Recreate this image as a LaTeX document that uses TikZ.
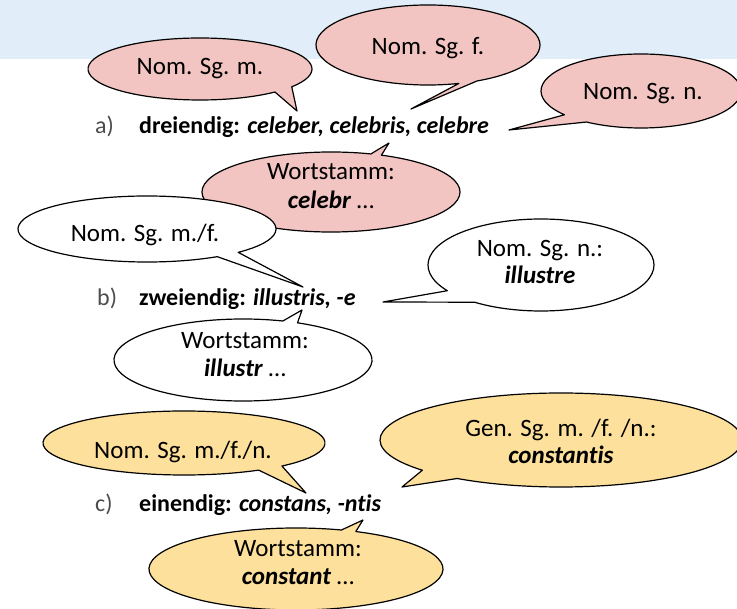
\documentclass[tikz,border=0pt]{standalone}
\usepackage{fontspec}
\setmainfont{Carlito}[Ligatures=NoCommon]
\usetikzlibrary{calc}
\definecolor{bandblue}{HTML}{E1EDF9}
\definecolor{bpink}{HTML}{F2C4C2}
\definecolor{byellow}{HTML}{FDE09B}
\begin{document}
\begin{tikzpicture}[x=1pt,y=1pt,yscale=-1,
  bubble/.style={draw=black, line width=1.2pt, line join=round},
  txt/.style={inner sep=0pt, anchor=base, font=\fontsize{25}{28}\selectfont},
  lbl/.style={inner sep=0pt, anchor=base west, font=\fontsize{24}{28}\selectfont},
  lightlbl/.style={lbl, text=black!70}]
\useasboundingbox (0,0) rectangle (737,609);
\clip (0,0) rectangle (737,609);
\fill[bandblue] (0,0) rectangle (737,59);

% a) dreiendig
\coordinate (c1) at (200,69);  \coordinate (p1) at (297,111);
\filldraw[bubble, fill=bpink] ($(c1)+(48:112 and 31)$) arc[start angle=48, end angle=395, x radius=112, y radius=31] -- (p1) -- cycle;
\node[txt] (t1) at (200,75) {Nom. Sg. m.};

\coordinate (c2) at (428,45);  \coordinate (p2) at (411,109);
\filldraw[bubble, fill=bpink] ($(c2)+(74:112 and 40)$) arc[start angle=74, end angle=424, x radius=112, y radius=40] -- (p2) -- cycle;
\node[txt] (t2) at (428,55) {Nom. Sg. f.};

\coordinate (c3) at (641,91);  \coordinate (p3) at (509,130);
\filldraw[bubble, fill=bpink] ($(c3)+(140:100 and 37)$) arc[start angle=140, end angle=483, x radius=100, y radius=37] -- (p3) -- cycle;
\node[txt] (t3) at (643,100) {Nom. Sg. n.};

\node[lightlbl] (la) at (95,134) {a)};
\node[lbl] (ta) at (139,134) {\textbf{dreiendig: \textit{celeber, celebris, celebre}}};

\coordinate (c4) at (331,192);  \coordinate (p4) at (389,143);
\filldraw[bubble, fill=bpink] ($(c4)+(-67:129 and 40)$) arc[start angle=-67, end angle=288, x radius=129, y radius=40] -- (p4) -- cycle;
\node[txt] (t4a) at (331,180) {Wortstamm:};
\node[txt] (t4b) at (331,209) {\textbf{\textit{celebr}} …};

% b) zweiendig
\coordinate (c5) at (147,229);  \coordinate (p5) at (303,287);
\filldraw[bubble, fill=white] ($(c5)+(57:129 and 33)$) arc[start angle=57, end angle=405, x radius=129, y radius=33] -- (p5) -- cycle;
\node[txt] (t5) at (145,242) {Nom. Sg. m./f.};

\coordinate (c6) at (541,265);  \coordinate (p6) at (383,302);
\filldraw[bubble, fill=white] ($(c6)+(146:113 and 46)$) arc[start angle=146, end angle=486, x radius=113, y radius=46] -- (p6) -- cycle;
\node[txt] (t6a) at (540,257) {Nom. Sg. n.:};
\node[txt] (t6b) at (540,284) {\textbf{\textit{illustre}}};

\node[lightlbl] (lb) at (97,306) {b)};
\node[lbl] (tb) at (139,306) {\textbf{zweiendig: \textit{illustris, -e}}};

\coordinate (c7) at (243,360);  \coordinate (p7) at (302,310);
\filldraw[bubble, fill=white] ($(c7)+(-65:129 and 41)$) arc[start angle=-65, end angle=288, x radius=129, y radius=41] -- (p7) -- cycle;
\node[txt] (t7a) at (245,349) {Wortstamm:};
\node[txt] (t7b) at (245,377) {\textbf{\textit{illustr}} …};

% c) einendig
\coordinate (c8) at (184,443);  \coordinate (p8) at (306,493);
\filldraw[bubble, fill=byellow] ($(c8)+(58:141 and 32)$) arc[start angle=58, end angle=406, x radius=141, y radius=32] -- (p8) -- cycle;
\node[txt] (t8) at (183,459) {Nom. Sg. m./f./n.};

\coordinate (c9) at (561,440);  \coordinate (p9) at (402,487);
\filldraw[bubble, fill=byellow] ($(c9)+(140:181 and 47)$) arc[start angle=140, end angle=485, x radius=181, y radius=47] -- (p9) -- cycle;
\node[txt] (t9a) at (561,437) {Gen. Sg. m. /f. /n.:};
\node[txt] (t9b) at (561,464) {\textbf{\textit{constantis}}};

\node[lightlbl] (lc) at (95,512) {c)};
\node[lbl] (tc) at (139,512) {\textbf{einendig: \textit{constans, -ntis}}};

\coordinate (c10) at (296,569);  \coordinate (p10) at (363,520);
\filldraw[bubble, fill=byellow] ($(c10)+(-66:147 and 41)$) arc[start angle=-66, end angle=288, x radius=147, y radius=41] -- (p10) -- cycle;
\node[txt] (t10a) at (298,557) {Wortstamm:};
\node[txt] (t10b) at (298,585) {\textbf{\textit{constant}} …};
\end{tikzpicture}
\end{document}
